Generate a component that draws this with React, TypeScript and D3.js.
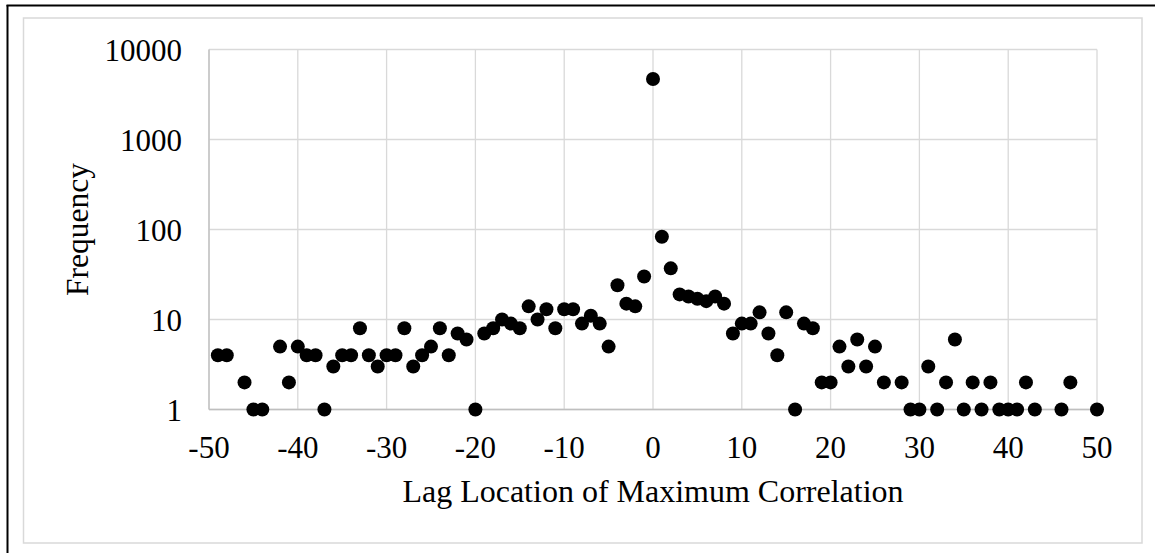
import React from "react";
import * as d3 from "d3";

const lags = [
  -49, -48, -46, -45, -44, -42, -41, -40, -39, -38, -37, -36, -35, -34, -33, -32, -31, -30, -29, -28,
  -27, -26, -25, -24, -23, -22, -21, -20, -19, -18, -17, -16, -15, -14, -13, -12, -11, -10, -9, -8,
  -7, -6, -5, -4, -3, -2, -1, 0, 1, 2, 3, 4, 5, 6, 7, 8, 9, 10, 11, 12, 13, 14, 15, 16, 17, 18, 19,
  20, 21, 22, 23, 24, 25, 26, 28, 29, 30, 31, 32, 33, 34, 35, 36, 37, 38, 39, 40, 41, 42, 43, 46, 47, 50,
];
const frequencies = [
  4, 4, 2, 1, 1, 5, 2, 5, 4, 4, 1, 3, 4, 4, 8, 4, 3, 4, 4, 8,
  3, 4, 5, 8, 4, 7, 6, 1, 7, 8, 10, 9, 8, 14, 10, 13, 8, 13, 13, 9,
  11, 9, 5, 24, 15, 14, 30, 4700, 83, 37, 19, 18, 17, 16, 18, 15, 7, 9, 9, 12, 7, 4, 12, 1, 9, 8, 2,
  2, 5, 3, 6, 3, 5, 2, 2, 1, 1, 3, 1, 2, 6, 1, 2, 1, 2, 1, 1, 1, 2, 1, 1, 2, 1,
];
const xTicks = [-50, -40, -30, -20, -10, 0, 10, 20, 30, 40, 50];
const yTicks = [1, 10, 100, 1000, 10000];
const xTitle = "Lag Location of Maximum Correlation";
const yTitle = "Frequency";

const W = 1155;
const H = 553;
const FONT = "'Liberation Serif', 'Times New Roman', serif";

export default function App() {
  const x = d3.scaleLinear().domain([-50, 50]).range([209, 1097]);
  const y = d3.scaleLog().domain([1, 10000]).range([409.5, 49.5]);
  const [x0, x1] = x.range();
  const [y0, y1] = y.range();
  const points = lags.map((l, i) => ({ l, f: frequencies[i] }));

  return (
    <svg
      width={W}
      height={H}
      viewBox={`0 0 ${W} ${H}`}
      style={{ position: "absolute", left: 0, top: 0, display: "block", background: "#fff" }}
    >
      <rect x={0} y={0} width={W} height={H} fill="#fff" />
      {/* outer black frame (left/top visible) */}
      <line x1={7.5} y1={5} x2={7.5} y2={H} stroke="#000" strokeWidth={2} />
      <line x1={6.5} y1={5.5} x2={W} y2={5.5} stroke="#000" strokeWidth={2} />
      {/* chart area border */}
      <rect x={23.5} y={18} width={1142 - 23.5} height={543 - 18} fill="#fff" stroke="#d9d9d9" strokeWidth={1.5} />

      {/* gridlines */}
      {yTicks.map((t) => (
        <line key={"gy" + t} x1={x0} x2={x1} y1={y(t)} y2={y(t)} stroke="#d9d9d9" strokeWidth={1.3} />
      ))}
      {xTicks.map((t) => (
        <line key={"gx" + t} x1={x(t)} x2={x(t)} y1={y1} y2={y0} stroke="#d9d9d9" strokeWidth={1.3} />
      ))}
      {/* axes */}
      <line x1={x0} x2={x0} y1={y1} y2={y0} stroke="#bfbfbf" strokeWidth={1.3} />
      <line x1={x0} x2={x1} y1={y0} y2={y0} stroke="#bfbfbf" strokeWidth={1.5} />

      {/* y tick labels */}
      {yTicks.map((t) => (
        <text
          key={"ly" + t}
          x={182}
          y={y(t) + 11}
          textAnchor="end"
          fontFamily={FONT}
          fontSize={31}
          fill="#000"
        >
          {String(t)}
        </text>
      ))}
      {/* x tick labels */}
      {xTicks.map((t) => (
        <text
          key={"lx" + t}
          x={x(t)}
          y={458}
          textAnchor="middle"
          fontFamily={FONT}
          fontSize={31}
          fill="#000"
        >
          {String(t)}
        </text>
      ))}

      {/* titles */}
      <text x={(x0 + x1) / 2} y={501.5} textAnchor="middle" fontFamily={FONT} fontSize={32} fill="#000">
        {xTitle}
      </text>
      <text
        transform={`translate(88,${(y0 + y1) / 2}) rotate(-90)`}
        textAnchor="middle"
        fontFamily={FONT}
        fontSize={31.5}
        fill="#000"
      >
        {yTitle}
      </text>

      {/* points */}
      {points.map((p) => (
        <circle key={"p" + p.l} cx={x(p.l)} cy={y(p.f)} r={7} fill="#000" />
      ))}
    </svg>
  );
}
